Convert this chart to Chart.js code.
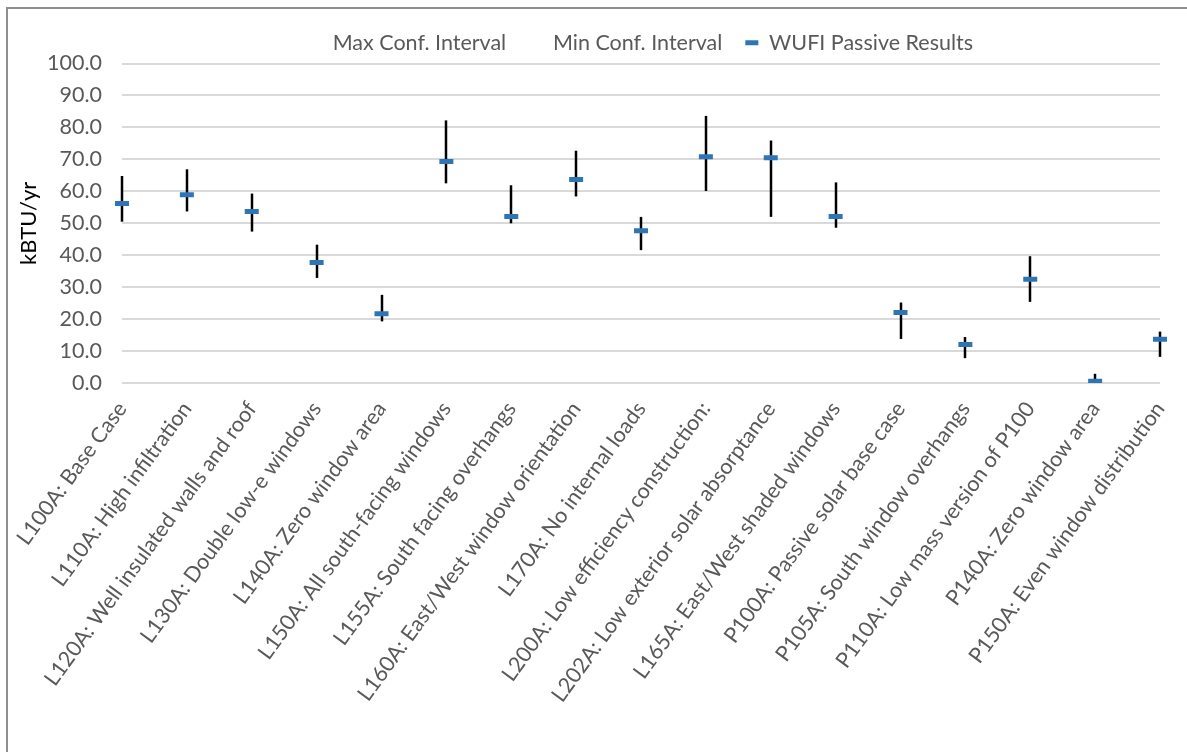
<!DOCTYPE html>
<html>
<head>
<meta charset="utf-8">
<script src="https://cdn.jsdelivr.net/npm/chart.js@4"></script>
<style>
  html, body { margin: 0; padding: 0; background: #fff; overflow: hidden; }
  #frame { position: absolute; left: 6px; top: 7px; width: 1200px; height: 760px; border: 2px solid #8f8f8f; box-sizing: border-box; }
  #wrap { position: absolute; left: 0; top: 0; width: 1187px; height: 752px; }
</style>
</head>
<body>
<div id="frame"></div>
<div id="wrap"><canvas id="chart"></canvas></div>
<script>
// categorias del eje x
const categories = [
  "L100A: Base Case",
  "L110A: High infiltration",
  "L120A: Well insulated walls and roof",
  "L130A: Double low-e windows",
  "L140A: Zero window area",
  "L150A: All south-facing windows",
  "L155A: South facing overhangs",
  "L160A: East/West window orientation",
  "L170A: No internal loads",
  "L200A: Low efficiency construction:",
  "L202A: Low exterior solar absorptance",
  "L165A: East/West shaded windows",
  "P100A: Passive solar base case",
  "P105A: South window overhangs",
  "P110A: Low mass version of P100",
  "P140A: Zero window area",
  "P150A: Even window distribution"
];

const maxConf = [64.8, 66.9, 59.3, 43.3, 27.6, 82.2, 61.9, 72.7, 52.0, 83.6, 75.9, 62.8, 25.2, 14.4, 39.7, 2.9, 16.1];
const minConf = [50.5, 53.7, 47.4, 32.9, 19.3, 62.5, 50.0, 58.4, 41.6, 60.1, 52.0, 48.6, 13.8, 7.8, 25.4, 0.3, 8.2];
const wufiResults = [56.2, 58.9, 53.7, 37.7, 21.7, 69.3, 52.1, 63.7, 47.7, 70.8, 70.5, 52.1, 22.1, 12.1, 32.5, 0.6, 13.7];

const yTicks = [0, 10, 20, 30, 40, 50, 60, 70, 80, 90, 100];

const FONT = "Lato, 'Liberation Sans', sans-serif";
const GREY = "#595959";
const BLUE = "#2E75B6";

// lineas alto-bajo entre max y min
const hiLowPlugin = {
  id: "hiLow",
  beforeDatasetsDraw(chart) {
    const { ctx, scales: { x, y } } = chart;
    ctx.save();
    ctx.strokeStyle = "#000";
    ctx.lineWidth = 2.5;
    maxConf.forEach((hi, i) => {
      const px = Math.round(x.getPixelForValue(i));
      ctx.beginPath();
      ctx.moveTo(px, y.getPixelForValue(hi));
      ctx.lineTo(px, y.getPixelForValue(minConf[i]));
      ctx.stroke();
    });
    ctx.restore();
  }
};

new Chart(document.getElementById("chart").getContext("2d"), {
  type: "line",
  data: {
    labels: categories,
    datasets: [
      { label: "Max Conf. Interval", data: maxConf, showLine: false, pointRadius: 0, borderColor: "transparent", backgroundColor: "transparent" },
      { label: "Min Conf. Interval", data: minConf, showLine: false, pointRadius: 0, borderColor: "transparent", backgroundColor: "transparent" },
      {
        label: "WUFI Passive Results",
        data: wufiResults,
        showLine: false,
        pointStyle: "line",
        pointRadius: 7,
        pointBorderWidth: 5,
        pointBorderColor: BLUE,
        borderColor: BLUE,
        backgroundColor: BLUE
      }
    ]
  },
  options: {
    responsive: true,
    maintainAspectRatio: false,
    animation: false,
    layout: { padding: { top: 9, left: 16, right: 27, bottom: 39 } },
    plugins: {
      legend: {
        position: "top",
        fullSize: false,
        labels: {
          color: GREY,
          font: { family: FONT, size: 21.5 },
          boxWidth: 13,
          boxHeight: 5,
          padding: 23,
          generateLabels(chart) {
            return chart.data.datasets.map((ds, i) => ({
              text: ds.label,
              fillStyle: i === 2 ? BLUE : "rgba(0,0,0,0)",
              strokeStyle: "rgba(0,0,0,0)",
              lineWidth: 0,
              fontColor: GREY,
              hidden: false,
              datasetIndex: i
            }));
          }
        }
      },
      tooltip: { enabled: false }
    },
    scales: {
      x: {
        offset: false,
        grid: { display: false },
        border: { display: false },
        afterFit(scale) { scale.paddingLeft = 0; },
        ticks: {
          color: GREY,
          font: { family: FONT, size: 21.5 },
          minRotation: 54,
          maxRotation: 54,
          autoSkip: false,
          padding: 6
        }
      },
      y: {
        min: 0,
        max: 100,
        afterBuildTicks(axis) { axis.ticks = yTicks.map(v => ({ value: v })); },
        afterFit(scale) { scale.width = 106; },
        grid: { color: "#d9d9d9", lineWidth: 2, drawTicks: false },
        border: { display: false },
        ticks: {
          color: GREY,
          font: { family: FONT, size: 21.5 },
          padding: 20,
          callback: v => Number(v).toFixed(1)
        },
        title: {
          display: true,
          text: "kBTU/yr",
          color: "#000",
          font: { family: FONT, size: 22 },
          padding: { top: 0, bottom: 4 }
        }
      }
    }
  },
  plugins: [hiLowPlugin]
});
</script>
</body>
</html>
